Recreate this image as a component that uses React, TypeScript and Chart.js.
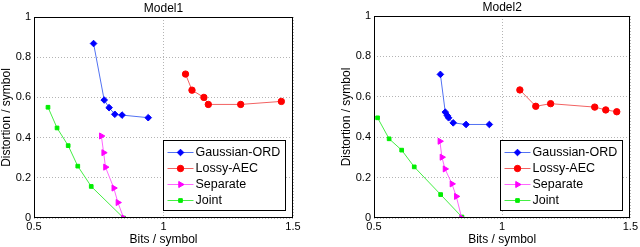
import React, { useEffect, useRef } from 'react';
import { Chart, registerables } from 'chart.js';

Chart.register(...registerables);

// ---------- data ----------
const seriesNames = ['Gaussian-ORD', 'Lossy-AEC', 'Separate', 'Joint'];
const xTickLabels = ['0.5', '1', '1.5'];
const yTickLabels = ['0', '0.2', '0.4', '0.6', '0.8', '1'];

// Model1
const m1GaussX = [0.73, 0.771, 0.79, 0.812, 0.84, 0.941];
const m1GaussY = [0.868, 0.587, 0.549, 0.516, 0.512, 0.499];
const m1LossyX = [1.085, 1.11, 1.156, 1.173, 1.298, 1.455];
const m1LossyY = [0.716, 0.636, 0.6, 0.565, 0.565, 0.58];
const m1SepX = [0.76, 0.769, 0.776, 0.808, 0.824, 0.846];
const m1SepY = [0.408, 0.325, 0.253, 0.149, 0.077, 0.0];
const m1JointX = [0.554, 0.589, 0.632, 0.669, 0.721, 0.846];
const m1JointY = [0.551, 0.448, 0.36, 0.258, 0.157, 0.0];

// Model2
const m2GaussX = [0.759, 0.778, 0.786, 0.791, 0.809, 0.859, 0.95];
const m2GaussY = [0.711, 0.524, 0.507, 0.496, 0.471, 0.463, 0.463];
const m2LossyX = [1.069, 1.131, 1.189, 1.361, 1.404, 1.447];
const m2LossyY = [0.634, 0.553, 0.566, 0.549, 0.535, 0.526];
const m2SepX = [0.757, 0.765, 0.777, 0.804, 0.821, 0.842];
const m2SepY = [0.38, 0.301, 0.243, 0.169, 0.107, 0.0];
const m2JointX = [0.514, 0.559, 0.608, 0.657, 0.76, 0.843];
const m2JointY = [0.496, 0.392, 0.336, 0.253, 0.116, 0.005];

// ---------- styles ----------
const FONT = "'Liberation Sans', Arial, Helvetica, sans-serif";
const lineColors = ['#5272f2', '#f26262', '#ff66ff', '#44ee44'];
const markerColors = ['#0000ff', '#ff0000', '#ff00ff', '#00ee00'];
const markerStyles = ['rectRot', 'circle', 'triangle', 'rect'];
const markerRadius = [3.3, 3.2, 3.5, 2.6];
const markerRotation = [0, 0, 90, 0];

function zip(xs: number[], ys: number[]) {
  return xs.map((x, i) => ({ x, y: ys[i] }));
}

function drawMarker(ctx: CanvasRenderingContext2D, kind: number, x: number, y: number) {
  ctx.save();
  ctx.fillStyle = markerColors[kind];
  ctx.strokeStyle = markerColors[kind];
  ctx.lineWidth = 1;
  ctx.beginPath();
  const r = markerRadius[kind];
  if (kind === 0) {
    ctx.moveTo(x, y - r);
    ctx.lineTo(x + r, y);
    ctx.lineTo(x, y + r);
    ctx.lineTo(x - r, y);
    ctx.closePath();
  } else if (kind === 1) {
    ctx.arc(x, y, r, 0, Math.PI * 2);
  } else if (kind === 2) {
    ctx.moveTo(x + r, y);
    ctx.lineTo(x - r * 0.5, y - r * 0.87);
    ctx.lineTo(x - r * 0.5, y + r * 0.87);
    ctx.closePath();
  } else {
    const s = r * Math.SQRT1_2;
    ctx.rect(x - s, y - s, 2 * s, 2 * s);
  }
  ctx.fill();
  ctx.stroke();
  ctx.restore();
}

const framePlugin = {
  id: 'frameLegend',
  afterDraw(chart: any) {
    const { ctx, chartArea } = chart;
    const { left, right, top, bottom } = chartArea;
    ctx.save();
    // axes box
    ctx.strokeStyle = '#000';
    ctx.lineWidth = 1;
    ctx.strokeRect(Math.round(left) + 0.5, Math.round(top) + 0.5, Math.round(right - left) - 1, Math.round(bottom - top) - 1);
    // legend
    const w = 122;
    const h = 70;
    const lx = Math.round(right - 8 - w) + 0.5;
    const ly = Math.round(bottom - 8 - h) + 0.5;
    ctx.fillStyle = '#fff';
    ctx.fillRect(lx, ly, w, h);
    ctx.strokeRect(lx, ly, w, h);
    ctx.font = `12.5px ${FONT}`;
    ctx.textBaseline = 'middle';
    ctx.textAlign = 'left';
    seriesNames.forEach((name, i) => {
      const cy = ly + 12 + i * 16;
      ctx.strokeStyle = lineColors[i];
      ctx.lineWidth = 1;
      ctx.beginPath();
      ctx.moveTo(lx + 4, cy);
      ctx.lineTo(lx + 30, cy);
      ctx.stroke();
      drawMarker(ctx, i, lx + 17, cy);
      ctx.fillStyle = '#000';
      ctx.fillText(name, lx + 32, cy + 0.5);
    });
    ctx.restore();
  },
};

type PanelProps = {
  title: string;
  series: { x: number[]; y: number[] }[];
  padLeft: number;
  padRight: number;
  titleTop: number;
};

function Panel({ title, series, padLeft, padRight, titleTop }: PanelProps) {
  const ref = useRef<HTMLCanvasElement | null>(null);
  useEffect(() => {
    if (!ref.current) return;
    const datasets = series.map((s, i) => ({
      label: seriesNames[i],
      data: zip(s.x, s.y),
      borderColor: lineColors[i],
      backgroundColor: markerColors[i],
      borderWidth: 1,
      pointStyle: markerStyles[i] as any,
      pointRadius: markerRadius[i],
      pointRotation: markerRotation[i],
      pointBackgroundColor: markerColors[i],
      pointBorderColor: markerColors[i],
      pointBorderWidth: 1,
      showLine: true,
      tension: 0,
      fill: false,
    }));
    const chart = new Chart(ref.current, {
      type: 'line',
      data: { datasets },
      plugins: [framePlugin],
      options: {
        animation: false,
        responsive: false,
        maintainAspectRatio: false,
        layout: { padding: { left: padLeft, right: padRight, top: 0, bottom: 0 } },
        plugins: {
          legend: { display: false },
          tooltip: { enabled: false },
          title: {
            display: true,
            text: title,
            fullSize: false,
            color: '#000',
            font: { family: FONT, size: 12, weight: 'normal', lineHeight: '13px' },
            padding: { top: titleTop, bottom: 2 },
          },
        },
        scales: {
          x: {
            type: 'linear',
            min: 0.5,
            max: 1.5,
            afterFit: (s: any) => {
              s.height = 29;
            },
            ticks: {
              stepSize: 0.5,
              padding: 2,
              color: '#000',
              font: { family: FONT, size: 11 },
              maxRotation: 0,
              callback: (_v: any, i: number) => xTickLabels[i],
            },
            grid: { color: '#b4b4b4', lineWidth: 1, drawTicks: false },
            border: { display: false, dash: [1, 2] },
            title: {
              display: true,
              text: 'Bits / symbol',
              color: '#000',
              font: { family: FONT, size: 12, lineHeight: '14px' },
              padding: { top: 0, bottom: 0 },
            },
          },
          y: {
            type: 'linear',
            min: 0,
            max: 1,
            afterFit: (s: any) => {
              s.width = 34;
            },
            ticks: {
              stepSize: 0.2,
              padding: 3,
              color: '#000',
              font: { family: FONT, size: 11 },
              callback: (_v: any, i: number) => yTickLabels[i],
            },
            grid: { color: '#b4b4b4', lineWidth: 1, drawTicks: false },
            border: { display: false, dash: [1, 2] },
            title: {
              display: true,
              text: 'Distortion / symbol',
              color: '#000',
              font: { family: FONT, size: 12, lineHeight: '13px' },
              padding: { top: 0, bottom: 0 },
            },
          },
        },
      } as any,
    });
    return () => chart.destroy();
  }, []);
  return <canvas ref={ref} width={320} height={247} style={{ display: 'block', width: 320, height: 247 }} />;
}

export default function App() {
  const model1 = [
    { x: m1GaussX, y: m1GaussY },
    { x: m1LossyX, y: m1LossyY },
    { x: m1SepX, y: m1SepY },
    { x: m1JointX, y: m1JointY },
  ];
  const model2 = [
    { x: m2GaussX, y: m2GaussY },
    { x: m2LossyX, y: m2LossyY },
    { x: m2SepX, y: m2SepY },
    { x: m2JointX, y: m2JointY },
  ];
  return (
    <div style={{ position: 'fixed', left: 0, top: 0, width: 640, height: 247, background: '#fff' }}>
      <div style={{ position: 'absolute', left: 0, top: 0 }}>
        <Panel title="Model1" series={model1} padLeft={0} padRight={27} titleTop={2} />
      </div>
      <div style={{ position: 'absolute', left: 320, top: 0 }}>
        <Panel title="Model2" series={model2} padLeft={20} padRight={9} titleTop={1} />
      </div>
    </div>
  );
}
